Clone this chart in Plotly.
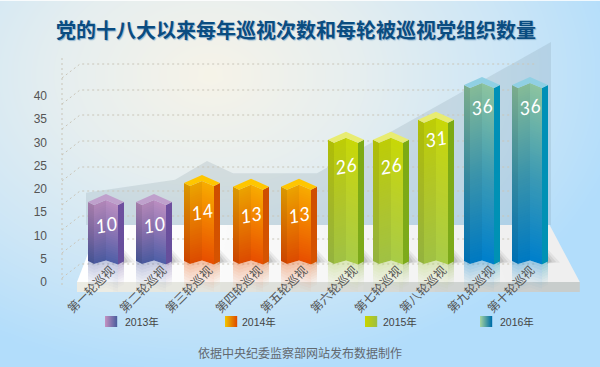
import numpy as np
import plotly.graph_objects as go

# ---- data ----
rounds = ["第一轮巡视", "第二轮巡视", "第三轮巡视", "第四轮巡视", "第五轮巡视",
          "第六轮巡视", "第七轮巡视", "第八轮巡视", "第九轮巡视", "第十轮巡视"]
counts = [10, 10, 14, 13, 13, 26, 26, 31, 36, 36]
years = [2013, 2013, 2014, 2014, 2014, 2015, 2015, 2015, 2016, 2016]
# height each column is actually drawn at, read against the axis ticks
drawn_top = [18.9, 18.9, 23.0, 22.2, 22.2, 32.3, 32.3, 36.6, 44.1, 44.1]
drawn_base = 4.6
bar_center = [106, 154, 202, 251, 299, 346, 391, 436, 482, 530]
label_x = [103, 155, 201, 251, 296, 346, 390, 435, 483, 523]
y_ticks = [0, 5, 10, 15, 20, 25, 30, 35, 40]
legend_years = [2013, 2014, 2015, 2016]
# silhouette behind the columns, in axis units
area_x = [86, 175, 207, 233, 317, 551]
area_y = [19.2, 22.0, 26.0, 23.4, 23.4, 51.6]

# ---- styles ----
PAL = {
    2013: dict(stops=["#b98dc1", "#8a74b4", "#5060a8"], side=["#6f4f9f", "#66509c"], cap="#bfa0cc",
               leg=["#c090c0", "#5060a0"]),
    2014: dict(stops=["#f8ab00", "#f27c00", "#e85000"], side=["#cf4f00", "#d65400"], cap="#ffc600",
               leg=["#f0c000", "#e05000"]),
    2015: dict(stops=["#c8d808", "#bad02c", "#a9cc48"], side=["#7dab14", "#7daa1c"], cap="#e8ec72",
               leg=["#c8d400", "#a0c040"]),
    2016: dict(stops=["#8cc4a0", "#3f9cb4", "#0080cc"], side=["#0090b8", "#0092b4"], cap="#90d0e4",
               leg=["#a0d0a0", "#0070a8"]),
}
SHADE = [0.88, 0.95, 1.0]
PX0, PXU = 282.0, 4.65   # pixel row of axis 0, pixels per axis unit


def v(px):
    return (PX0 - np.asarray(px, dtype=float)) / PXU


def rgb(h):
    h = h.lstrip("#")
    return np.array([int(h[i:i + 2], 16) for i in (0, 2, 4)], dtype=float)


def col(c, a=1.0):
    return f"rgba({int(c[0])},{int(c[1])},{int(c[2])},{a:.3f})"


def ramp(stops, f):
    n = len(stops) - 1
    i = min(int(f * n), n - 1)
    return rgb(stops[i]) * (1 - (f * n - i)) + rgb(stops[i + 1]) * (f * n - i)


fig = go.Figure()


def poly(xs, ys_px, color):
    xs = list(xs) + [xs[0]]
    ys = list(v(ys_px)) + [v(ys_px[0])]
    fig.add_trace(go.Scatter(x=xs, y=ys, mode="lines", fill="toself", fillcolor=color,
                             line=dict(width=0), hoverinfo="skip", showlegend=False))


def dotted(xs, ys_px):
    fig.add_trace(go.Scatter(x=xs, y=v(ys_px), mode="lines", hoverinfo="skip", showlegend=False,
                             line=dict(color="#c9c5b8", width=1, dash="2px,3px")))


# ---- background ----
bx = np.linspace(-10, 610, 63)
bp = np.linspace(-10, 377, 40)
dist = np.sqrt(((bx[None, :] - 210) / 420) ** 2 + ((bp[:, None] - 75) / 300) ** 2)
fig.add_trace(go.Heatmap(x=bx, y=v(bp), z=np.clip(dist, 0, 1), zmin=0, zmax=1, zsmooth="best",
                         showscale=False, hoverinfo="skip",
                         colorscale=[[0, "#f6f3e8"], [0.35, "#e6eeef"], [0.7, "#cde6f6"], [1, "#b2ddfb"]]))
poly([0, 600, 600, 0], [0, 0, 1, 1], "rgba(255,255,255,0.8)")

# ---- silhouette ----
fig.add_trace(go.Scatter(x=area_x + [551, 86, 86], y=area_y + [float(v(225)), float(v(225)), area_y[0]],
                         mode="lines", fill="toself", fillcolor="rgba(105,130,145,0.17)",
                         line=dict(width=0), hoverinfo="skip", showlegend=False))

# ---- floor ----
N = 14
for i in range(N):
    a, b = i / N, (i + 1.05) / N
    c = rgb("#ffffff") * (1 - a) + rgb("#eeeeee") * a
    poly([99 + a * 449, 99 + b * 449, 77 + b * 501, 77 + a * 501], [225, 225, 282, 282], col(c))
    c = rgb("#ecece4") * (1 - a) + rgb("#c6cbcb") * a
    poly([77 + a * 501, 77 + b * 501, 77 + b * 501, 77 + a * 501], [282, 282, 292, 292], col(c))

# ---- grid ----
grid_back = [64, 90, 115, 141, 167, 191, 216, 239, 264]
dotted([62, 62], [58, 287])
for g in grid_back:
    dotted([62, 80, 535], [g + 14, g, g])

# ---- columns ----
OFF = [-18, -12, 0, 12, 18]
TOP = [8, 11, 6, 11, 8]
BOT = [0.5, 3.5, 0, 4, 1]
for cx, top, yr in zip(bar_center, drawn_top, years):
    p = PAL[yr]
    T = PX0 - top * PXU
    B = PX0 - drawn_base * PXU
    # shadow on the floor
    for k, a in enumerate([0.07, 0.09, 0.12, 0.14]):
        poly([cx + 17, cx + 30 - 4 * k, cx + 17], [B - 12 + 3 * k, B + 2 - k / 2, B + 3], f"rgba(60,60,60,{a})")
    # reflection
    for j in range(4):
        x0, x1 = cx + OFF[j], cx + OFF[j + 1]
        b0, b1 = B + BOT[j], B + BOT[j + 1]
        base = ramp(p["stops"], 1.0) if j < 3 else rgb(p["side"][1])
        h = 27 if j < 3 else 23
        for s in range(9):
            f0, f1 = s / 9, (s + 1) / 9
            poly([x0, x1, x1, x0], [b0 + f0 * h, b1 + f0 * h, b1 + f1 * h, b0 + f1 * h],
                 col(base, 0.34 * (1 - f0) ** 1.2))
    # faces, top to bottom
    nsl = max(10, int((B - T) / 2.5))
    for j in range(4):
        x0, x1 = cx + OFF[j], cx + OFF[j + 1]
        t0, t1 = T + TOP[j], T + TOP[j + 1]
        b0, b1 = B + BOT[j], B + BOT[j + 1]
        for s in range(nsl):
            f0, f1 = s / nsl, min(1, (s + 1.5) / nsl)
            if j < 3:
                c = ramp(p["stops"], s / (nsl - 1)) * SHADE[j]
            else:
                c = ramp(p["side"], s / (nsl - 1))
            poly([x0, x1, x1, x0],
                 [t0 + f0 * (b0 - t0), t1 + f0 * (b1 - t1), t1 + f1 * (b1 - t1), t0 + f1 * (b0 - t0)], col(c))
    # cap
    poly([cx + o for o in [-18, 0, 18, 12, 0, -12]],
         [T + 8, T, T + 8, T + 11, T + 6, T + 11], p["cap"])

# ---- legend swatches ----
for yr, x0 in zip(legend_years, [105, 225, 365, 480]):
    for s in range(12):
        c = ramp(PAL[yr]["leg"], s / 11)
        poly([x0 + s, x0 + s + 1.2, x0 + s + 1.2, x0 + s], [316, 316, 327, 327], col(c))

# ---- annotations ----
CJK = "Noto Sans CJK SC"
ann = []
label_drop = [30, 30, 36, 36, 36, 34, 34, 27, 30, 30]
for cx, top, n, d in zip(bar_center, drawn_top, counts, label_drop):
    ann.append(dict(x=cx - 0.5, y=top - d / PXU, text=str(n), showarrow=False, textangle=-10,
                    font=dict(family="Lato", size=19, color="white", style="italic")))
for yr, x0 in zip(legend_years, [123, 240, 381, 498]):
    ann.append(dict(x=x0, y=float(v(322)), text=f"{yr}年", showarrow=False, xanchor="left",
                    font=dict(family="Liberation Sans, " + CJK, size=10.5, color="#444444")))
ann.append(dict(x=300, y=float(v(352)), text="依据中央纪委监察部网站发布数据制作", showarrow=False,
                font=dict(family=CJK, size=12, color="#62686e")))
ann.append(dict(x=295.5, y=float(v(29)), text="<b>党的十八大以来每年巡视次数和每轮被巡视党组织数量</b>", showarrow=False,
                font=dict(family=CJK, size=20, color="#0a4c80", shadow="1px 1px 1px #8fb4d0")))

fig.update_layout(
    width=600, height=367, margin=dict(l=0, r=0, t=0, b=0), showlegend=False,
    paper_bgcolor="#cfe6f5", plot_bgcolor="rgba(0,0,0,0)", annotations=ann,
    xaxis=dict(range=[0, 600], domain=[0, 1], anchor="free", position=(367 - 260) / 367,
               tickmode="array", tickvals=label_x, ticktext=rounds, tickangle=-45, ticklen=0,
               ticklabelshift=8, tickfont=dict(family=CJK, size=12, color="#555555"),
               showgrid=False, zeroline=False, showline=False, fixedrange=True),
    yaxis=dict(range=[float(v(367)), float(v(0))], domain=[0, 1], anchor="free", position=47 / 600,
               tickmode="array", tickvals=y_ticks, ticklen=0,
               tickfont=dict(family="Liberation Sans", size=12, color="#555555"),
               showgrid=False, zeroline=False, showline=False, fixedrange=True),
)
fig.write_html("out.html", config=dict(displayModeBar=False),
               post_script="document.body.style.margin='0';document.body.style.overflow='hidden';")
